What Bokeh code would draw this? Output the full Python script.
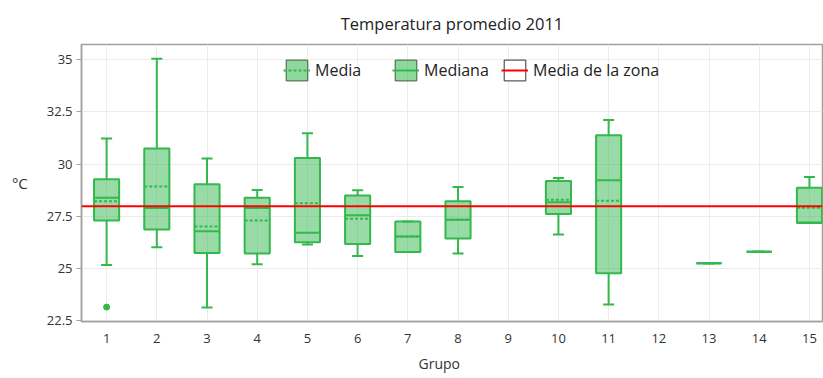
from bokeh.plotting import figure
from bokeh.models import (ColumnDataSource, Range1d, FixedTicker, Span, Legend, LegendItem, Title)
from bokeh.transform import dodge
from bokeh.embed import file_html
from bokeh.resources import INLINE

# ---- data ----
title_text = "Temperatura promedio 2011"
x_label = "Grupo"
y_label = "°C"
groups = [1, 2, 3, 4, 5, 6, 7, 8, 10, 11, 13, 14, 15]
whisker_high = [31.22, 35.05, 30.27, 28.76, 31.48, 28.74, 27.24, 28.90, 29.33, 32.11, 25.24, 25.79, 29.38]
q3 = [29.27, 30.74, 29.03, 28.38, 30.29, 28.49, 27.24, 28.22, 29.19, 31.38, 25.24, 25.79, 28.86]
median = [28.38, 27.89, 26.78, 27.89, 26.71, 27.54, 26.52, 27.33, 28.17, 29.22, 25.24, 25.79, 27.20]
mean = [28.22, 28.92, 27.01, 27.29, 28.12, 27.38, 26.52, 27.33, 28.29, 28.24, 25.24, 25.79, 27.90]
q1 = [27.29, 26.86, 25.74, 25.71, 26.25, 26.16, 25.78, 26.43, 27.60, 24.76, 25.24, 25.79, 27.17]
whisker_low = [25.16, 26.01, 23.12, 25.19, 26.14, 25.59, 25.78, 25.71, 26.62, 23.27, 25.24, 25.79, 27.17]
outlier_group = [1]
outlier_value = [23.14]
zone_mean = 27.97
x_ticks = list(range(1, 16))
y_ticks = [22.5, 25, 27.5, 30, 32.5, 35]
y_tick_labels = ["22.5", "25", "27.5", "30", "32.5", "35"]
legend_labels = ["Media", "Mediana", "Media de la zona"]

FONT = "Open Sans"
GREEN = "#33b84d"
FILL = "#33b84d"

src = ColumnDataSource(dict(x=groups, hi=whisker_high, q3=q3, med=median,
                            mean=mean, q1=q1, lo=whisker_low))

p = figure(width=823, height=378, output_backend="svg", toolbar_location=None,
           x_range=Range1d(0.5, 15.26), y_range=Range1d(22.45, 35.73),
           min_border_left=81, min_border_right=1, min_border_top=43, min_border_bottom=56)

p.title.text = title_text
p.title.align = "center"
p.title.text_font = FONT
p.title.text_font_size = "16.5px"
p.title.text_font_style = "normal"
p.title.text_color = "#222222"
p.title.standoff = 19

p.outline_line_color = "#a0a0a0"
p.outline_line_width = 1.5
p.background_fill_color = "white"
p.border_fill_color = "white"

p.xaxis.ticker = FixedTicker(ticks=x_ticks)
p.yaxis.ticker = FixedTicker(ticks=y_ticks)
p.yaxis.major_label_overrides = {k: v for k, v in zip(y_ticks, y_tick_labels)}
for ax in (p.xaxis[0], p.yaxis[0]):
    ax.axis_line_color = "#a0a0a0"
    ax.axis_line_width = 1.5
    ax.minor_tick_line_color = None
    ax.major_label_text_font = FONT
    ax.major_label_text_font_size = "13px"
    ax.major_label_text_color = "#333333"
    ax.axis_label_text_font = FONT
    ax.axis_label_text_font_style = "normal"
    ax.axis_label_text_color = "#333333"
p.xaxis.major_tick_line_color = None
p.xaxis.major_label_standoff = 6
p.yaxis.major_tick_line_color = "#a0a0a0"
p.yaxis.major_tick_out = 5
p.yaxis.major_tick_in = 0
p.yaxis.major_label_standoff = 4
p.yaxis.axis_label = y_label
p.yaxis.axis_label_orientation = "horizontal"
p.yaxis.axis_label_text_font_size = "15px"
p.yaxis.axis_label_standoff = 16

p.xgrid.grid_line_color = "#ececec"
p.ygrid.grid_line_color = "#ececec"
p.xgrid.ticker = FixedTicker(ticks=x_ticks)
p.ygrid.ticker = FixedTicker(ticks=y_ticks)

# whiskers
p.segment(x0="x", y0="q3", x1="x", y1="hi", source=src, line_color=GREEN, line_width=2)
p.segment(x0="x", y0="q1", x1="x", y1="lo", source=src, line_color=GREEN, line_width=2)
p.segment(x0=dodge("x", -0.11), y0="hi", x1=dodge("x", 0.11), y1="hi", source=src,
          line_color=GREEN, line_width=2)
p.segment(x0=dodge("x", -0.11), y0="lo", x1=dodge("x", 0.11), y1="lo", source=src,
          line_color=GREEN, line_width=2)
# boxes
p.vbar(x="x", width=0.5, top="q3", bottom="q1", source=src, fill_color=FILL,
       fill_alpha=0.5, line_color=GREEN, line_width=2)
p.segment(x0=dodge("x", -0.25), y0="med", x1=dodge("x", 0.25), y1="med", source=src,
          line_color=GREEN, line_width=2)
p.segment(x0=dodge("x", -0.25), y0="mean", x1=dodge("x", 0.25), y1="mean", source=src,
          line_color=GREEN, line_width=2, line_dash="3 2")
p.scatter(x=outlier_group, y=outlier_value, size=6, fill_color=GREEN, line_color=GREEN)

p.add_layout(Span(location=zone_mean, dimension="width", line_color="#ff0000", line_width=2))

# legend proxies (placed outside the visible range)
off = [-10]
lb1 = p.quad(left=off, right=off, top=off, bottom=off, fill_color=FILL, fill_alpha=0.55,
             line_color="#3d5a40", line_width=1)
lm1 = p.segment(x0=off, y0=off, x1=off, y1=off, line_color=GREEN, line_width=2, line_dash="3 2")
lm2 = p.segment(x0=off, y0=off, x1=off, y1=off, line_color=GREEN, line_width=2)
lb3 = p.quad(left=off, right=off, top=off, bottom=off, fill_color="white",
             line_color="#333333", line_width=1)
lr3 = p.segment(x0=off, y0=off, x1=off, y1=off, line_color="#ff0000", line_width=2)

legend = Legend(items=[LegendItem(label=legend_labels[0], renderers=[lb1, lm1]),
                       LegendItem(label=legend_labels[1], renderers=[lb1, lm2]),
                       LegendItem(label=legend_labels[2], renderers=[lb3, lr3])],
                orientation="horizontal", location=(202, 238),
                glyph_width=27, glyph_height=26, label_standoff=5, spacing=7,
                label_width=70, padding=0, margin=0,
                border_line_alpha=0, background_fill_alpha=0,
                label_text_font=FONT, label_text_font_size="16px",
                label_text_color="#222222")
p.add_layout(legend, "center")

p.add_layout(Title(text=x_label, align="left", offset=337, standoff=12,
                   text_font=FONT, text_font_size="14px", text_font_style="normal",
                   text_color="#333333"), "below")

open("out.html", "w").write(file_html(p, INLINE))
